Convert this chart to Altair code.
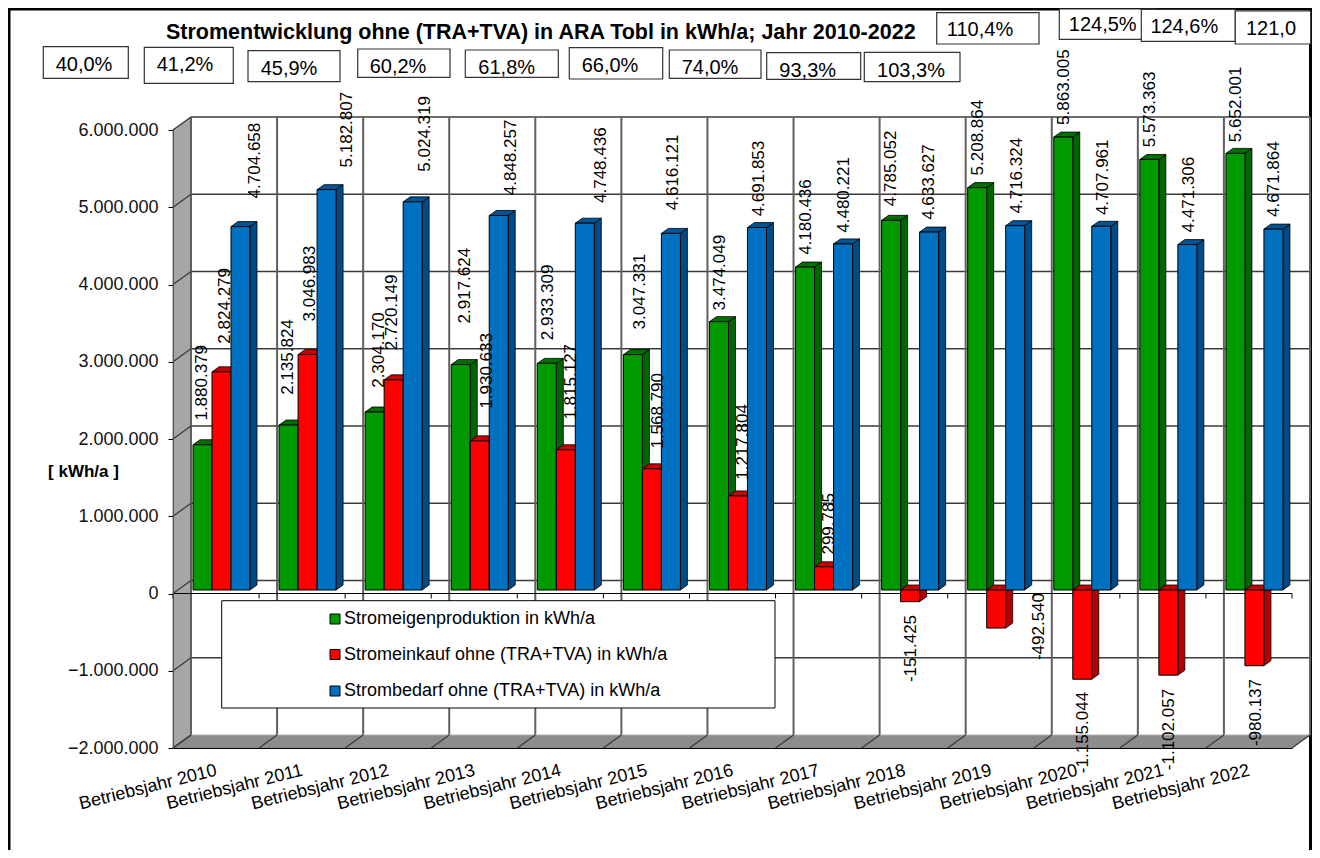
import altair as alt
import pandas as pd

years = list(range(2010, 2023))
categories = [f"Betriebsjahr {y}" for y in years]
series_names = ["Stromeigenproduktion in kWh/a", "Stromeinkauf ohne (TRA+TVA) in kWh/a", "Strombedarf ohne (TRA+TVA) in kWh/a"]
eigen = [1880379, 2135824, 2304170, 2917624, 2933309, 3047331, 3474049, 4180436, 4785052, 5208864, 5863005, 5573363, 5652001]
einkauf = [2824279, 3046983, 2720149, 1930633, 1815127, 1568790, 1217804, 299785, -151425, -492540, -1155044, -1102057, -980137]
bedarf = [4704658, 5182807, 5024319, 4848257, 4748436, 4616121, 4691853, 4480221, 4633627, 4716324, 4707961, 4471306, 4671864]
y_ticks = [-2000000, -1000000, 0, 1000000, 2000000, 3000000, 4000000, 5000000, 6000000]
percent_texts = ["40,0%", "41,2%", "45,9%", "60,2%", "61,8%", "66,0%", "74,0%", "93,3%", "103,3%", "110,4%", "124,5%", "124,6%", "121,0"]
title_text = "Stromentwicklung ohne (TRA+TVA) in ARA Tobl in kWh/a; Jahr 2010-2022"

# hand-placed label nudges of the original, px relative to each bar's end
eigen_dx = [-1.5, -1.6, 3.3, 3.3, 0.2, 6.1, 0, 0, -1, 0, 0, 0, 0]
eigen_lift = [62, 68, 62, 79, 61, 63, 49, 50, 52, 50, 50, 50, 49]
einkauf_dx = [2.5, 1.4, -2.7, 6.3, 4.2, 5.1, 4, 4, 0, 41.8, -0.3, -0.4, 0.5]
einkauf_lift = [66, 71, 67.5, 70, 68, 58, 54, 43, -46.8, 1.5, -53.3, -54.4, -46.8]
bedarf_dx = [13.5, 19.4, 11.3, 11.3, 15.2, 1.1, 1, 0, -1, 0.8, 0.7, 0.6, -0.5]
bedarf_lift = [66, 60, 68, 58, 58, 61, 49, 49, 50, 50, 49, 50, 50]

# annotation boxes of the original: left, top, right, bottom, text centre x, text centre y (page px)
boxes = [
    (43.3, 46.7, 128.3, 78.3, 84, 65), (144.3, 47.3, 233.3, 83.3, 185, 65),
    (248, 50.7, 340, 81.7, 289, 69), (357.7, 49, 450, 77.3, 398, 67),
    (465.3, 50, 558.3, 77.3, 506.7, 68), (569.3, 47.7, 662.7, 79, 610, 66),
    (669.3, 50, 761, 78.3, 710, 68), (766.7, 52.7, 860.7, 79.3, 807.7, 71),
    (864.3, 52.3, 960, 81.7, 911, 70.7), (936.7, 12.7, 1039, 44, 980, 30),
    (1059.3, 9, 1155.7, 39.3, 1102.7, 25), (1141.3, 9.3, 1235.3, 41.3, 1184.3, 26.7),
    (1235.3, 11, 1310.7, 44, 1271, 29.3),
]

FACE = ["#009900", "#ff0000", "#0070c0"]
SIDE = ["#006600", "#b30000", "#004a85"]
TOP = ["#007000", "#c80000", "#005596"]
FONT = "Liberation Sans"

LEFT, TOPPX, W, H = 173, 130, 1119, 618
TOTAL_W, TOTAL_H = 1304, 842
CAT = W / 13
UNIT = H / 8e6


def dx(px):
    return px / CAT


def dy(px):
    return px / UNIT


def X(px):
    return (px - LEFT) / CAT


def Y(py):
    return 6e6 - (py - TOPPX) / UNIT


xs = alt.Scale(domain=[0, 13], range=[0, W], nice=False, zero=False)
ys = alt.Scale(domain=[-2e6, 6e6], range=[H, 0], nice=False, zero=False)

cat_js = "[" + ",".join(f"'{c}'" for c in categories) + "]"
XAXIS = alt.Axis(
    values=[k + 0.5 for k in range(13)], grid=False, ticks=False, domain=True, domainColor="black", zindex=1,
    labelExpr=f"{cat_js}[floor(datum.value)]", labelAngle=346, labelAlign="right", labelBaseline="middle",
    labelPadding=22, labelFont=FONT, labelFontSize=18, labelColor="black", labelOverlap=False, labelFlush=False)
YAXIS = alt.Axis(
    values=y_ticks, grid=False, ticks=True, tickSize=5, tickColor="black", domain=True, domainColor="#555555", zindex=1,
    labelExpr="replace(format(datum.value, ','), /,/g, '.')", labelPadding=10, labelFont=FONT, labelFontSize=18,
    labelColor="#111111", titleAngle=0, titleX=-90, titleY=341, titleFont=FONT, titleFontSize=17, titleFontWeight="bold",
    titleAlign="center", titleBaseline="middle", titleColor="black", labelOverlap=False)


def xe(f="x"):
    return alt.X(f"{f}:Q", scale=xs, axis=XAXIS, title=None)


def ye(f="y"):
    return alt.Y(f"{f}:Q", scale=ys, axis=YAXIS, title="[ kWh/a ]")


def x2e(f="x2"):
    return alt.X2(f"{f}:Q")


def y2e(f="y2"):
    return alt.Y2(f"{f}:Q")


# depth geometry
BACK_X, BACK_Y = 18, 13
BAR_X, BAR_Y = 7, 5
GAP_X, GAP_Y = 20, 3.5
BAR_W = 19

layers = []

# frame
layers.append(alt.Chart(pd.DataFrame([dict(x=X(8), x2=X(1312), y=Y(9))])).mark_rule(color="black", strokeWidth=3).encode(
    x=xe(), x2=x2e(), y=ye()))
layers.append(alt.Chart(pd.DataFrame([dict(x=X(9), y=Y(8), y2=Y(850))])).mark_rule(color="black", strokeWidth=3).encode(
    x=xe(), y=ye(), y2=y2e()))
layers.append(alt.Chart(pd.DataFrame([dict(x=X(1310.5), y=Y(8), y2=Y(850))])).mark_rule(color="black", strokeWidth=3).encode(
    x=xe(), y=ye(), y2=y2e()))

# left wall and floor
wall = pd.DataFrame([
    dict(x=0, y=6e6, y2=-2e6),
    dict(x=dx(BACK_X), y=6e6 + dy(BACK_Y), y2=-2e6 + dy(BACK_Y)),
])
layers.append(alt.Chart(wall).mark_area(color="#a6a6a6", stroke="#7f7f7f", strokeWidth=1).encode(
    x=xe(), y=ye(), y2=y2e()))
floor = pd.DataFrame([
    dict(y=-2e6, x=0, x2=13),
    dict(y=-2e6 + dy(BACK_Y), x=dx(BACK_X), x2=13 + dx(BACK_X)),
])
layers.append(alt.Chart(floor).mark_area(color="#8c8c8c", orient="horizontal").encode(
    x=xe(), x2=x2e(), y=ye()))

# back plane grid
hgrid = pd.DataFrame([dict(x=dx(BACK_X), x2=13 + dx(BACK_X), y=v + dy(BACK_Y)) for v in y_ticks[1:-1]])
layers.append(alt.Chart(hgrid).mark_rule(color="#3a3a3a", strokeWidth=1.6).encode(x=xe(), x2=x2e(), y=ye()))
top_edge = pd.DataFrame([dict(x=dx(BACK_X), x2=13 + dx(BACK_X), y=6e6 + dy(BACK_Y))])
layers.append(alt.Chart(top_edge).mark_rule(color="#6e6e6e", strokeWidth=2).encode(x=xe(), x2=x2e(), y=ye()))
vgrid = pd.DataFrame([dict(x=k + dx(BACK_X), y=6e6 + dy(BACK_Y), y2=-2e6 + dy(BACK_Y)) for k in range(14)])
layers.append(alt.Chart(vgrid).mark_rule(color="#5f5f5f", strokeWidth=2).encode(x=xe(), y=ye(), y2=y2e()))
low_edge = pd.DataFrame([dict(x=dx(BACK_X), x2=13 + dx(BACK_X), y=-2e6 + dy(BACK_Y))])
layers.append(alt.Chart(low_edge).mark_rule(color="#b0b0b0", strokeWidth=1).encode(x=xe(), x2=x2e(), y=ye()))
# slanted grid parts on the wall and the floor
wall_rows, floor_rows = [], []
for v in y_ticks:
    wall_rows += [dict(id=v, x=0, y=v), dict(id=v, x=dx(BACK_X), y=v + dy(BACK_Y))]
for k in range(14):
    floor_rows += [dict(id=k, x=k, y=-2e6), dict(id=k, x=k + dx(BACK_X), y=-2e6 + dy(BACK_Y))]
layers.append(alt.Chart(pd.DataFrame(wall_rows)).mark_line(color="#3a3a3a", strokeWidth=1.3).encode(
    x=xe(), y=ye(), detail="id:N"))
layers.append(alt.Chart(pd.DataFrame(floor_rows)).mark_line(color="#3a3a3a", strokeWidth=1.3).encode(
    x=xe(), y=ye(), detail="id:N"))

# front zero line with its ticks
layers.append(alt.Chart(pd.DataFrame([dict(x=0, x2=13, y=0)])).mark_rule(color="black", strokeWidth=1).encode(
    x=xe(), x2=x2e(), y=ye()))
zt = pd.DataFrame([dict(x=k, y=0, y2=-dy(5)) for k in range(14)])
layers.append(alt.Chart(zt).mark_rule(color="black", strokeWidth=1).encode(x=xe(), y=ye(), y2=y2e()))

# bars: each series as front, side and top faces, built from the value lists
all_values = [eigen, einkauf, bedarf]
all_dx = [eigen_dx, einkauf_dx, bedarf_dx]
all_lift = [eigen_lift, einkauf_lift, bedarf_lift]
label_layers = []
for s, values in enumerate(all_values):
    base = dy(GAP_Y)
    front, side, top, labels = [], [], [], []
    for k, v in enumerate(values):
        x0 = k + dx(GAP_X + s * BAR_W)
        x1 = x0 + dx(BAR_W)
        yv = v + base
        upper = max(yv, base)
        lower = min(yv, base)
        front.append(dict(x=x0, x2=x1, y=lower, y2=upper))
        side += [dict(id=k, x=x1, y=upper, y2=lower),
                 dict(id=k, x=x1 + dx(BAR_X), y=upper + dy(BAR_Y), y2=lower + dy(BAR_Y))]
        top += [dict(id=k, y=upper, x=x0, x2=x1),
                dict(id=k, y=upper + dy(BAR_Y), x=x0 + dx(BAR_X), x2=x1 + dx(BAR_X))]
        sign = "" if v >= 0 else "-"
        text = sign + f"{abs(v):,}".replace(",", ".")
        labels.append(dict(x=(x0 + x1) / 2 + dx(all_dx[s][k] + 1), y=yv + dy(all_lift[s][k]), t=text))
    layers.append(alt.Chart(pd.DataFrame(side)).mark_area(color=SIDE[s], stroke="black", strokeWidth=0.8).encode(
        x=xe(), y=ye(), y2=y2e(), detail="id:N"))
    layers.append(alt.Chart(pd.DataFrame(top)).mark_area(color=TOP[s], stroke="black", strokeWidth=0.8, orient="horizontal").encode(
        x=xe(), x2=x2e(), y=ye(), detail="id:N"))
    layers.append(alt.Chart(pd.DataFrame(front)).mark_rect(color=FACE[s], stroke="black", strokeWidth=1).encode(
        x=xe(), x2=x2e(), y=ye(), y2=y2e()))
    label_layers.append(alt.Chart(pd.DataFrame(labels)).mark_text(
        angle=270, font=FONT, fontSize=17, color="black", align="center", baseline="middle").encode(
        x=xe(), y=ye(), text="t:N"))

# legend
legend_box = pd.DataFrame([dict(x=X(221.7), x2=X(775), y=Y(600.7), y2=Y(708))])
layers.append(alt.Chart(legend_box).mark_rect(fill="white", stroke="black", strokeWidth=1).encode(
    x=xe(), x2=x2e(), y=ye(), y2=y2e()))
legend_y = [619, 654.5, 691]
for s, name in enumerate(series_names):
    sw = pd.DataFrame([dict(x=X(330), x2=X(340), y=Y(legend_y[s] + 5), y2=Y(legend_y[s] - 5))])
    layers.append(alt.Chart(sw).mark_rect(color=FACE[s], stroke="black", strokeWidth=1).encode(
        x=xe(), x2=x2e(), y=ye(), y2=y2e()))
    lt = pd.DataFrame([dict(x=X(344), y=Y(legend_y[s]), t=name)])
    layers.append(alt.Chart(lt).mark_text(font=FONT, fontSize=18, align="left", baseline="middle", color="black").encode(
        x=xe(), y=ye(), text="t:N"))

layers += label_layers

# percentage boxes
bx = pd.DataFrame([dict(x=X(b[0]), x2=X(b[2]), y=Y(b[3]), y2=Y(b[1])) for b in boxes])
layers.append(alt.Chart(bx).mark_rect(fill="white", stroke="#333333", strokeWidth=1.2).encode(
    x=xe(), x2=x2e(), y=ye(), y2=y2e()))
bt = pd.DataFrame([dict(x=X(b[4]), y=Y(b[5]), t=t) for b, t in zip(boxes, percent_texts)])
layers.append(alt.Chart(bt).mark_text(font=FONT, fontSize=20, align="center", baseline="middle", color="black").encode(
    x=xe(), y=ye(), text="t:N"))

# chart title
tt = pd.DataFrame([dict(x=X(166), y=Y(33), t=title_text)])
layers.append(alt.Chart(tt).mark_text(font=FONT, fontSize=21.5, fontWeight="bold", align="left", baseline="middle", color="black").encode(
    x=xe(), y=ye(), text="t:N"))

chart = alt.layer(*layers).properties(
    width=W, height=H,
    padding={"left": LEFT - 8, "top": TOPPX - 8, "right": TOTAL_W - (LEFT - 8) - W, "bottom": TOTAL_H - (TOPPX - 8) - H},
    autosize=alt.AutoSizeParams(type="none"),
    background="white",
).configure_view(stroke=None)

chart.save("out.html", embed_options={"renderer": "svg", "actions": False})
